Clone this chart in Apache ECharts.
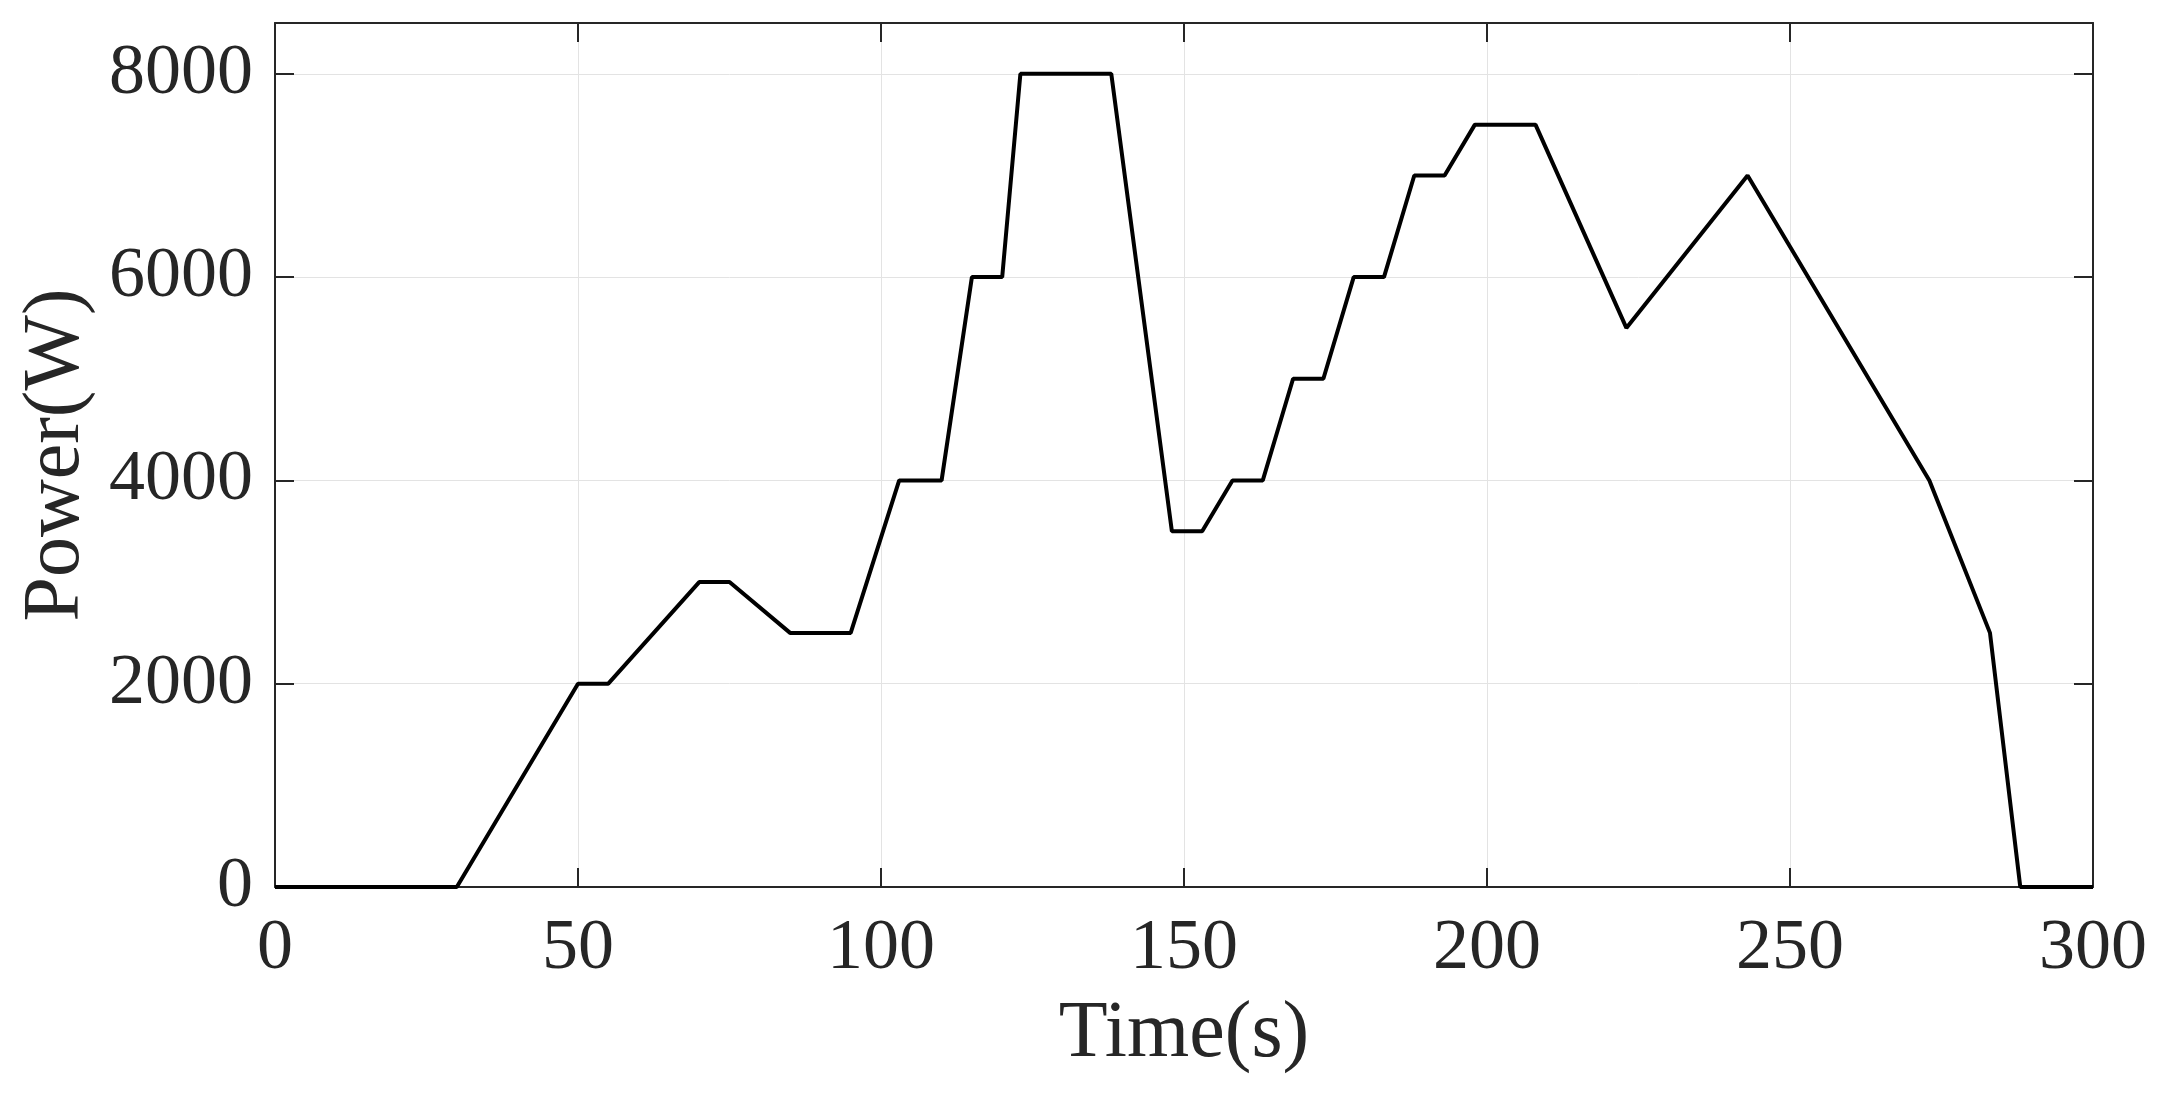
<!DOCTYPE html>
<html>
<head>
<meta charset="utf-8">
<title>Power(W) vs Time(s)</title>
<script src="https://cdn.jsdelivr.net/npm/echarts@6/dist/echarts.min.js"></script>
<style>
  html, body { margin: 0; padding: 0; background: #fff; }
  #chart { width: 2164px; height: 1101px; }
</style>
</head>
<body>
<div id="chart"></div>
<script>
// breakpoints of the power profile
const timeS = [0, 30, 50, 55, 70, 75, 85, 95, 103, 110, 115, 120, 123, 138, 148, 153,
  158, 163, 168, 173, 178, 183, 188, 193, 198, 208, 223, 243, 273, 283, 288, 300];
const powerW = [0, 0, 2000, 2000, 3000, 3000, 2500, 2500, 4000, 4000, 6000, 6000, 8000, 8000, 3500, 3500,
  4000, 4000, 5000, 5000, 6000, 6000, 7000, 7000, 7500, 7500, 5500, 7000, 4000, 2500, 0, 0];

const xTicks = [0, 50, 100, 150, 200, 250, 300];
const yTicks = [0, 2000, 4000, 6000, 8000];

const chart = echarts.init(document.getElementById('chart'));

const axisColor = '#262626';
const font = 'Liberation Serif';

const frameAxis = {
  axisLine: { show: true, onZero: false, lineStyle: { color: axisColor, width: 2 } },
  axisTick: { show: true, inside: true, length: 19, lineStyle: { color: axisColor, width: 2 } },
  splitLine: { show: false },
  axisLabel: { show: false }
};

const option = {
  backgroundColor: '#fff',
  animation: false,
  grid: { left: 275, right: 71, top: 23, bottom: 214, outerBoundsMode: 'none', containLabel: false },
  xAxis: [{
    type: 'value',
    min: xTicks[0],
    max: xTicks[xTicks.length - 1],
    interval: 50,
    name: 'Time(s)',
    nameLocation: 'middle',
    nameGap: 108,
    nameTextStyle: { fontFamily: font, fontSize: 80, color: axisColor },
    axisLine: { onZero: false, lineStyle: { color: axisColor, width: 2 } },
    axisTick: { inside: true, length: 19, lineStyle: { color: axisColor, width: 2 } },
    axisLabel: { fontFamily: font, fontSize: 72, color: axisColor, margin: 26, formatter: v => String(v) },
    splitLine: { show: true, lineStyle: { color: '#e3e3e3', width: 1 } }
  }, Object.assign({
    type: 'value', position: 'top',
    min: xTicks[0], max: xTicks[xTicks.length - 1], interval: 50
  }, frameAxis)],
  yAxis: [{
    type: 'value',
    min: 0,
    max: 8500,
    interval: 2000,
    name: 'Power(W)',
    nameLocation: 'middle',
    nameGap: 178,
    nameTextStyle: { fontFamily: font, fontSize: 80, color: axisColor },
    axisLine: { show: true, lineStyle: { color: axisColor, width: 2 } },
    axisTick: { show: true, inside: true, length: 19, lineStyle: { color: axisColor, width: 2 } },
    axisLabel: {
      fontFamily: font, fontSize: 72, color: axisColor, margin: 22, showMaxLabel: false,
      formatter: v => (yTicks.indexOf(v) >= 0 ? String(v) : '')
    },
    splitLine: { show: true, lineStyle: { color: '#e3e3e3', width: 1 } }
  }, Object.assign({
    type: 'value', position: 'right',
    min: 0, max: 8500, interval: 2000
  }, frameAxis)],
  series: [{
    type: 'line',
    xAxisIndex: 0,
    yAxisIndex: 0,
    data: timeS.map((t, i) => [t, powerW[i]]),
    showSymbol: false,
    symbol: 'none',
    lineStyle: { color: '#000', width: 4 },
    z: 5
  }]
};

chart.setOption(option);
</script>
</body>
</html>
